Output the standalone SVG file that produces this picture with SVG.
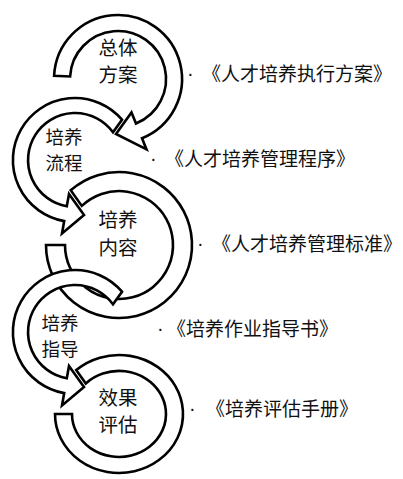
<svg xmlns="http://www.w3.org/2000/svg" width="403" height="479" viewBox="0 0 403 479">
<style>
.arr{fill:#fff;stroke:#000;stroke-width:2.6;stroke-linejoin:miter;stroke-miterlimit:10}
.lbl{font-family:"Noto Sans CJK SC","Noto Sans CJK JP",sans-serif;font-size:19.5px;fill:#111;text-anchor:middle}
.lbs{font-family:"Noto Sans CJK SC","Noto Sans CJK JP",sans-serif;font-size:18.5px;fill:#111;text-anchor:middle}
.doc{font-family:"Noto Sans CJK SC","Noto Sans CJK JP",sans-serif;font-size:19px;fill:#111}
.dot{font-family:"Liberation Sans",Arial,sans-serif;font-size:20px;fill:#111}
</style>
<rect width="403" height="479" fill="#fff"/>
<g id="connectors">
<path id="arrow5" class="arr" d="M 76.2 370.1 A 64 59 0 1 1 55 414 L 72 414 A 47 43 0 1 0 85.8 383.5 Z"/>
<path id="arrow3" class="arr" d="M 70.7 190.3 A 73 73 0 1 1 46 245 L 65 245 A 54 54 0 1 0 81.8 205.9 Z"/>
<path id="arrow4" class="arr" d="M 122 291.7 A 62 62 0 1 0 64.2 393.1 L 62 405.4 L 84 387 L 69 366 L 66.8 378.3 A 47 47 0 1 1 113 304.3 Z"/>
<path id="arrow2" class="arr" d="M 122 119.7 A 62 62 0 1 0 64.2 221.1 L 62 233.4 L 84 215 L 69 194 L 66.8 206.3 A 47 47 0 1 1 113 132.3 Z"/>
<path id="arrow1" class="arr" d="M 54.1 75.7 A 64 64 0 1 1 142 138.3 L 146.5 149.4 L 116 134 L 131.5 112.4 L 136 123.5 A 48 48 0 1 0 70.1 76.5 Z"/>
</g>
<g id="node1">
<text class="lbl" x="118" y="55">总体</text>
<text class="lbl" x="118" y="82">方案</text>
<text class="dot" x="187" y="80">·</text>
<text class="doc" x="202" y="81">《人才培养执行方案》</text>
</g>
<g id="node2">
<text class="lbs" x="64" y="143.5">培养</text>
<text class="lbs" x="64" y="169.5">流程</text>
<text class="dot" x="150" y="165">·</text>
<text class="doc" x="165" y="166">《人才培养管理程序》</text>
</g>
<g id="node3">
<text class="lbl" x="118" y="227">培养</text>
<text class="lbl" x="118" y="255">内容</text>
<text class="dot" x="197" y="250">·</text>
<text class="doc" x="212" y="251">《人才培养管理标准》</text>
</g>
<g id="node4">
<text class="lbs" x="60" y="329.5">培养</text>
<text class="lbs" x="60" y="355.5">指导</text>
<text class="dot" x="157" y="335">·</text>
<text class="doc" x="167" y="336">《培养作业指导书》</text>
</g>
<g id="node5">
<text class="lbl" x="118" y="405">效果</text>
<text class="lbl" x="118" y="432">评估</text>
<text class="dot" x="189" y="415">·</text>
<text class="doc" x="206" y="416">《培养评估手册》</text>
</g>
</svg>
